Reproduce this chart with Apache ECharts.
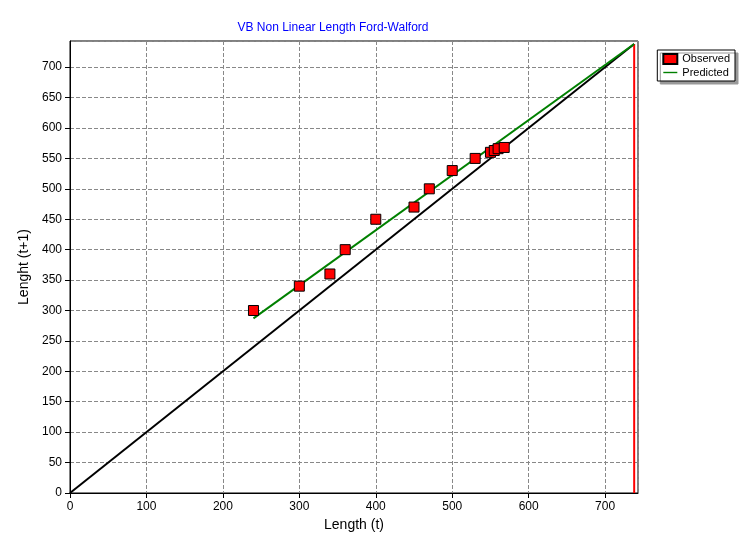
<!DOCTYPE html>
<html>
<head>
<meta charset="utf-8">
<script src="https://cdn.jsdelivr.net/npm/echarts@6/dist/echarts.min.js"></script>
<style>body{margin:0;background:#fff}#c{width:753px;height:548px}</style>
</head>
<body>
<div id="c"></div>
<script>
let obsX = [240, 300, 340, 360, 400, 450, 470, 500, 530, 550, 555, 560, 568]
let obsY = [300, 340, 360, 400, 450, 470, 500, 530, 550, 560, 563, 566, 568]
let predX = [240, 738]
let predY = [287, 738]
let diagX = [0, 738]
let diagY = [0, 738]
let limitX = [738, 738]
let limitY = [0, 738]

function pairs(xs, ys) {
    return xs.map(function (x, i) { return [x, ys[i]] })
}

let chart = echarts.init(document.getElementById('c'))
let axisText = { color: '#000', fontFamily: 'Liberation Sans', fontSize: 12, showMaxLabel: false }
chart.setOption({
    animation: false,
    title: {
        text: 'VB Non Linear Length Ford-Walford',
        left: 328, top: 17, textAlign: 'center',
        textStyle: { color: '#0000ff', fontSize: 12, fontWeight: 'normal', fontFamily: 'Liberation Sans' }
    },
    grid: { left: 70, right: 115, top: 41, bottom: 55, show: true, borderColor: '#000', borderWidth: 1 },
    legend: {
        right: 18, top: 50, orient: 'vertical', itemGap: 2,
        backgroundColor: '#fff', borderColor: '#000', borderWidth: 1, padding: [3, 5],
        shadowColor: '#999', shadowOffsetX: 3, shadowOffsetY: 3, shadowBlur: 0,
        itemWidth: 14, itemHeight: 10,
        textStyle: { fontSize: 11, fontFamily: 'Liberation Sans', color: '#000' },
        data: [{ name: 'Observed', icon: 'rect' }, { name: 'Predicted', icon: 'path://M0,4H20V6H0Z' }]
    },
    xAxis: {
        type: 'value', min: 0, max: 743, interval: 100,
        name: 'Length (t)', nameLocation: 'middle', nameGap: 22,
        nameTextStyle: { fontSize: 14, fontFamily: 'Liberation Sans', color: '#000' },
        axisLine: { lineStyle: { color: '#000' } },
        axisTick: { lineStyle: { color: '#000' } },
        axisLabel: axisText,
        splitLine: { lineStyle: { color: '#888', type: 'dashed' } }
    },
    yAxis: {
        type: 'value', min: 0, max: 743, interval: 50,
        name: 'Lenght (t+1)', nameLocation: 'middle', nameGap: 36,
        nameTextStyle: { fontSize: 14, fontFamily: 'Liberation Sans', color: '#000' },
        axisLine: { show: true, lineStyle: { color: '#000' } },
        axisTick: { show: true, lineStyle: { color: '#000' } },
        axisLabel: axisText,
        splitLine: { lineStyle: { color: '#888', type: 'dashed' } }
    },
    series: [
        {
            name: 'Diagonal', type: 'line', data: pairs(diagX, diagY), symbol: 'none',
            lineStyle: { color: '#000', width: 2 }, z: 2
        },
        {
            name: 'Limit', type: 'line', data: pairs(limitX, limitY), symbol: 'none',
            lineStyle: { color: '#ff0000', width: 2 }, z: 2
        },
        {
            name: 'Predicted', type: 'line', data: pairs(predX, predY), symbol: 'none',
            itemStyle: { color: '#008000' }, lineStyle: { color: '#008000', width: 2 }, z: 3
        },
        {
            name: 'Observed', type: 'scatter', data: pairs(obsX, obsY), symbol: 'rect', symbolSize: 10,
            itemStyle: { color: '#ff0000', borderColor: '#000', borderWidth: 1, opacity: 1 }, z: 4
        }
    ]
})
</script>
</body>
</html>
